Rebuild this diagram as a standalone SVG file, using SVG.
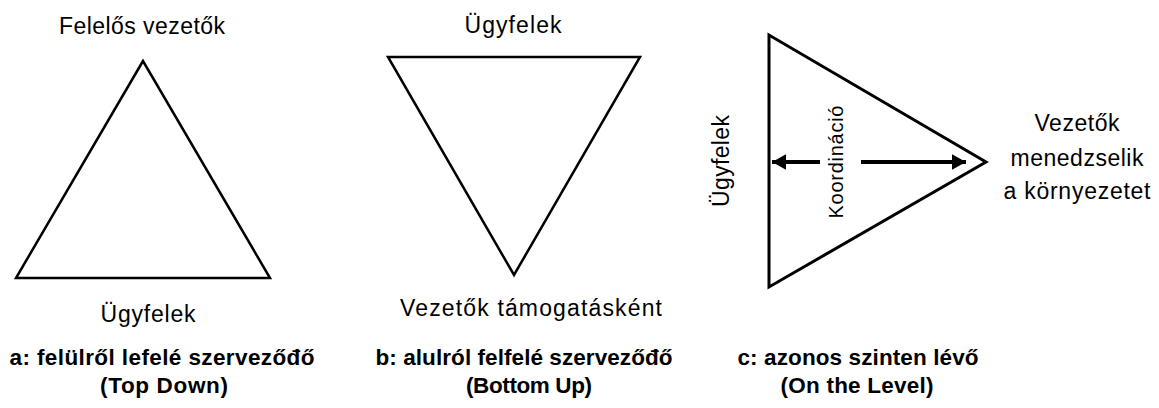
<svg xmlns="http://www.w3.org/2000/svg" width="1159" height="408" viewBox="0 0 1159 408">
<style>
.tri{fill:none;stroke:#000;stroke-width:2.5;stroke-linejoin:miter}
.t{font-family:"Liberation Sans",Arial,sans-serif;font-size:23px;fill:#000;text-anchor:middle}
.b{font-family:"Liberation Sans",Arial,sans-serif;font-size:22.5px;font-weight:bold;fill:#000;text-anchor:middle}
.s{font-family:"Liberation Sans",Arial,sans-serif;font-size:20px;fill:#000;text-anchor:middle}
.arr{stroke:#000;stroke-width:4;fill:none}
</style>
<defs>
<marker id="ah" markerWidth="4.5" markerHeight="4.5" refX="3.5" refY="2.25" orient="auto" markerUnits="strokeWidth">
<path d="M0,0.3 L3.5,2.25 L0,4.2 Z" fill="#000"/>
</marker>
</defs>
<rect width="1159" height="408" fill="#fff"/>
<g id="diagram-a">
<polygon class="tri" points="143,61 16,278 270,278"/>
<text class="t" x="142" y="34" textLength="166">Felelős vezetők</text>
<text class="t" x="148" y="322" textLength="95">Ügyfelek</text>
<text class="b" x="162" y="365" textLength="305">a: felülről lefelé szervezőđő</text>
<text class="b" x="164" y="393" textLength="128">(Top Down)</text>
</g>
<g id="diagram-b">
<polygon class="tri" points="388,57 640,57 514,275"/>
<text class="t" x="513" y="33" textLength="97">Ügyfelek</text>
<text class="t" x="531" y="316" textLength="262">Vezetők támogatásként</text>
<text class="b" x="524" y="365" textLength="297">b: alulról felfelé szervezőđő</text>
<text class="b" x="529" y="393" textLength="126">(Bottom Up)</text>
</g>
<g id="diagram-c">
<polygon class="tri" points="769,35 769,287 986,162" style="stroke-width:3"/>
<text class="t" transform="translate(729,161) rotate(-90)" textLength="92">Ügyfelek</text>
<text class="s" transform="translate(843,162) rotate(-90)" textLength="113">Koordináció</text>
<text class="t" x="1077" y="131" textLength="85">Vezetők</text>
<text class="t" x="1077" y="166" textLength="133">menedzselik</text>
<text class="t" x="1077" y="199" textLength="147">a környezetet</text>
<text class="b" x="858" y="365" textLength="241">c: azonos szinten lévő</text>
<text class="b" x="857" y="393" textLength="153">(On the Level)</text>
</g>
<g id="connectors">
<line class="arr" x1="820" y1="162" x2="772" y2="162" marker-end="url(#ah)"/>
<line class="arr" x1="861" y1="162" x2="966" y2="162" marker-end="url(#ah)"/>
</g>
</svg>
